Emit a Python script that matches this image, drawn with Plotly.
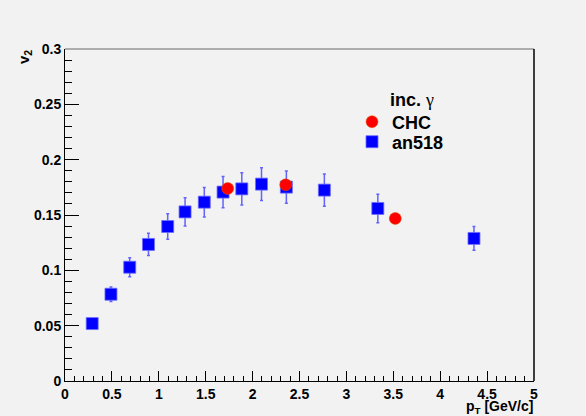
import plotly.graph_objects as go

# an518 (blue squares)
an_pt = [0.29, 0.49, 0.69, 0.89, 1.095, 1.28, 1.485, 1.685, 1.885, 2.095, 2.36, 2.765, 3.335, 4.36]
an_v2 = [0.0519, 0.0784, 0.1028, 0.1234, 0.1396, 0.1528, 0.1616, 0.1707, 0.1736, 0.1779, 0.1752, 0.1725, 0.1559, 0.1288]
an_err = [0.002, 0.0066, 0.0086, 0.0100, 0.0116, 0.0127, 0.0133, 0.0142, 0.0145, 0.0147, 0.0145, 0.0145, 0.0129, 0.0107]

# CHC (red circles)
chc_pt = [1.735, 2.353, 3.521]
chc_v2 = [0.174, 0.1773, 0.1469]

x_ticks = [0, 0.5, 1, 1.5, 2, 2.5, 3, 3.5, 4, 4.5, 5]
x_labels = ["0", "0.5", "1", "1.5", "2", "2.5", "3", "3.5", "4", "4.5", "5"]
y_ticks = [0, 0.05, 0.1, 0.15, 0.2, 0.25, 0.3]
y_labels = ["0", "0.05", "0.1", "0.15", "0.2", "0.25", "0.3"]

BG = "rgb(242,242,242)"
FONT = "Liberation Sans, Arial, sans-serif"

L, R, T, B = 65, 52, 49, 35
W, H = 586, 416
PW, PH = W - L - R, H - T - B


def px(xp):
    return (xp - L) / PW


def py(yp):
    return (H - B - yp) / PH


fig = go.Figure()
fig.add_trace(go.Scatter(
    x=an_pt, y=an_v2, mode="markers", name="an518", legend="legend2",
    marker=dict(symbol="square", size=12, color="rgb(0,0,255)",
                line=dict(color="rgba(110,110,255,0.8)", width=1)),
    error_y=dict(type="data", array=an_err, visible=True,
                 color="rgba(40,40,255,0.7)", thickness=1.5, width=1.5),
))
fig.add_trace(go.Scatter(
    x=chc_pt, y=chc_v2, mode="markers", name="CHC", legend="legend",
    marker=dict(symbol="circle", size=12, color="rgb(255,0,0)",
                line=dict(color="rgba(220,90,0,0.8)", width=0.6)),
))

leg_font = dict(family=FONT, size=18, weight="bold", color="black")
fig.update_layout(
    width=W, height=H,
    margin=dict(l=L, r=R, t=T, b=B),
    paper_bgcolor=BG, plot_bgcolor=BG,
    font=dict(family=FONT, color="black"),
    showlegend=True,
    legend=dict(x=px(352), y=py(122), xanchor="left", yanchor="middle",
                bgcolor="rgba(0,0,0,0)", borderwidth=0, font=leg_font, itemwidth=30),
    legend2=dict(x=px(352), y=py(142), xanchor="left", yanchor="middle",
                 bgcolor="rgba(0,0,0,0)", borderwidth=0, font=leg_font, itemwidth=30),
    xaxis=dict(range=[0, 5], tickvals=x_ticks, ticktext=x_labels,
               showgrid=False, zeroline=False, showline=True, linecolor="black", linewidth=1,
               ticks="inside", ticklen=10, tickcolor="black", tickwidth=1,
               minor=dict(dtick=0.1, ticks="inside", ticklen=5, tickcolor="black", showgrid=False),
               tickfont=dict(family=FONT, size=14, weight="bold", color="black")),
    yaxis=dict(range=[0, 0.3], tickvals=y_ticks, ticktext=y_labels,
               showgrid=False, zeroline=False, showline=True, linecolor="black", linewidth=1,
               ticks="inside", ticklen=14, tickcolor="black", tickwidth=1,
               minor=dict(dtick=0.01, ticks="inside", ticklen=7, tickcolor="black", showgrid=False),
               tickfont=dict(family=FONT, size=14, weight="bold", color="black")),
    shapes=[
        dict(type="line", xref="paper", yref="paper", x0=0, x1=1, y0=1, y1=1,
             line=dict(color="rgb(150,150,150)", width=1.5)),
        dict(type="line", xref="paper", yref="paper", x0=1, x1=1, y0=0, y1=1,
             line=dict(color="black", width=1.5)),
    ],
    annotations=[
        dict(text="v<sub>2</sub>", xref="paper", yref="paper", x=px(25), y=py(57),
             xanchor="center", yanchor="middle", textangle=-90, showarrow=False,
             font=dict(family=FONT, size=15, weight="bold", color="black")),
        dict(text="p<sub>T</sub> [GeV/c]", xref="paper", yref="paper", x=1.0, y=py(397),
             xanchor="right", yanchor="top", showarrow=False, borderpad=0,
             font=dict(family=FONT, size=14, weight="bold", color="black")),
        dict(text="inc. <span style=\"font-family:Liberation Serif;font-weight:normal\">γ</span>",
             xref="paper", yref="paper", x=px(388), y=py(100),
             xanchor="left", yanchor="middle", showarrow=False,
             font=dict(family=FONT, size=18, weight="bold", color="black")),
    ],
)

fig.write_html("out.html", config={"displayModeBar": False},
               post_script="document.body.style.margin='0';document.body.style.padding='0';"
                           "document.body.style.background='rgb(242,242,242)';")
